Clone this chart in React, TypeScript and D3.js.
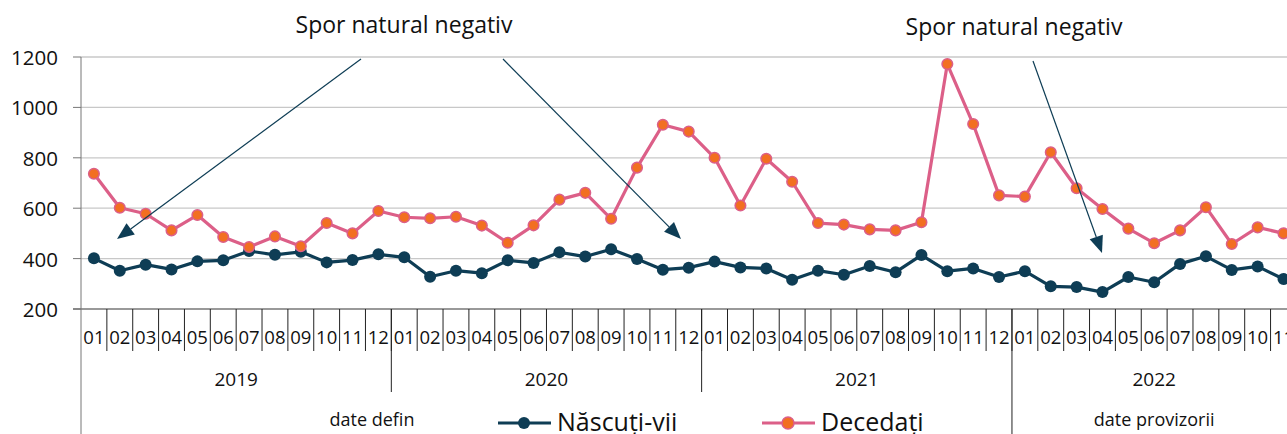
import React, { useEffect, useRef } from 'react';
import * as d3 from 'd3';

// luni pe ani (2022 doar pana in noiembrie)
const years = ['2019', '2020', '2021', '2022'];
const monthsPerYear = [12, 12, 12, 11];
const monthLabels = ['01', '02', '03', '04', '05', '06', '07', '08', '09', '10', '11', '12'];

const nascuti = [
  401, 352, 376, 357, 389, 393, 430, 415, 427, 385, 394, 417,
  405, 328, 352, 342, 393, 383, 425, 408, 437, 398, 356, 364,
  388, 365, 361, 316, 352, 336, 371, 346, 414, 350, 361, 327,
  350, 290, 287, 267, 327, 306, 379, 409, 355, 369, 319,
];
const decedati = [
  737, 602, 578, 512, 573, 486, 446, 488, 449, 541, 500, 589,
  564, 560, 566, 531, 463, 532, 634, 661, 558, 761, 931, 904,
  800, 611, 796, 705, 541, 535, 516, 512, 544, 1172, 934, 651,
  646, 822, 679, 597, 519, 461, 512, 604, 458, 524, 500,
];
const yTicks = [200, 400, 600, 800, 1000, 1200];

const DARK = '#0e3d55';
const PINK = '#dc5f88';
const ORANGE = '#f26f21';
const FONT = "'Open Sans', sans-serif";

const App: React.FC = () => {
  const svgRef = useRef<SVGSVGElement>(null);

  useEffect(() => {
    document.body.style.margin = '0';
    if (!svgRef.current) return;
    const svg = d3.select(svgRef.current);
    svg.selectAll('*').remove();

    const left = 81;
    const bandW = 25.86;
    const top = 57;
    const bottom = 309;

    const keys: string[] = [];
    years.forEach((y, i) => {
      for (let m = 0; m < monthsPerYear[i]; m++) keys.push(`${y}-${monthLabels[m]}`);
    });

    const x = d3.scaleBand<string>().domain(keys).range([left, left + keys.length * bandW]);
    const y = d3.scaleLinear().domain([200, 1200]).range([bottom, top]);
    const cx = (k: string) => (x(k) as number) + x.bandwidth() / 2;

    // grila
    yTicks.forEach(t => {
      if (t > 200) {
        svg.append('line')
          .attr('x1', left).attr('x2', 1287)
          .attr('y1', y(t)).attr('y2', y(t))
          .attr('stroke', '#c8c8c8').attr('stroke-width', 1.3);
      }
      svg.append('line')
        .attr('x1', left - 8).attr('x2', left)
        .attr('y1', y(t)).attr('y2', y(t))
        .attr('stroke', '#777').attr('stroke-width', 1);
      svg.append('text')
        .attr('x', 58).attr('y', y(t))
        .attr('text-anchor', 'end')
        .attr('dominant-baseline', 'central')
        .attr('font-family', FONT).attr('font-size', 20.5)
        .attr('fill', '#111')
        .text(t);
    });

    // axe
    svg.append('line')
      .attr('x1', left).attr('x2', left).attr('y1', top).attr('y2', 434)
      .attr('stroke', '#777').attr('stroke-width', 1);
    svg.append('line')
      .attr('x1', left - 8).attr('x2', 1287).attr('y1', bottom).attr('y2', bottom)
      .attr('stroke', '#777').attr('stroke-width', 1.3);

    // etichete luni + separatori
    keys.forEach(k => {
      const xe = (x(k) as number) + bandW;
      svg.append('line')
        .attr('x1', xe).attr('x2', xe).attr('y1', bottom).attr('y2', 351)
        .attr('stroke', '#222').attr('stroke-width', 1);
      svg.append('text')
        .attr('x', cx(k)).attr('y', 344)
        .attr('text-anchor', 'middle')
        .attr('font-family', FONT).attr('font-size', 18.5)
        .attr('fill', '#111')
        .text(k.slice(5));
    });

    // ani
    let start = 0;
    years.forEach((yr, i) => {
      const first = keys[start];
      const last = keys[start + monthsPerYear[i] - 1];
      const x0 = x(first) as number;
      const x1 = (x(last) as number) + bandW;
      svg.append('text')
        .attr('x', (x0 + x1) / 2).attr('y', 386)
        .attr('text-anchor', 'middle')
        .attr('font-family', FONT).attr('font-size', 19)
        .attr('fill', '#111')
        .text(yr);
      if (i > 0) {
        svg.append('line')
          .attr('x1', x0).attr('x2', x0).attr('y1', bottom).attr('y2', yr === '2022' ? 434 : 392)
          .attr('stroke', '#222').attr('stroke-width', 1);
      }
      if (yr === '2022') {
        svg.append('text')
          .attr('x', (x0 + x1) / 2).attr('y', 426)
          .attr('text-anchor', 'middle')
          .attr('font-family', FONT).attr('font-size', 18)
          .attr('fill', '#111')
          .text('date provizorii');
      }
      start += monthsPerYear[i];
    });

    svg.append('text')
      .attr('x', 372).attr('y', 426)
      .attr('text-anchor', 'middle')
      .attr('font-family', FONT).attr('font-size', 18)
      .attr('fill', '#111')
      .text('date defin');

    // serii
    const line = d3.line<number>()
      .x((_, i) => cx(keys[i]))
      .y(d => y(d));

    svg.append('path')
      .attr('d', line(nascuti) as string)
      .attr('fill', 'none').attr('stroke', DARK).attr('stroke-width', 3.2)
      .attr('stroke-linejoin', 'round');
    nascuti.forEach((v, i) => {
      svg.append('circle')
        .attr('cx', cx(keys[i])).attr('cy', y(v)).attr('r', 6)
        .attr('fill', DARK);
    });

    svg.append('path')
      .attr('d', line(decedati) as string)
      .attr('fill', 'none').attr('stroke', PINK).attr('stroke-width', 3.2)
      .attr('stroke-linejoin', 'round');
    decedati.forEach((v, i) => {
      svg.append('circle')
        .attr('cx', cx(keys[i])).attr('cy', y(v)).attr('r', 5.3)
        .attr('fill', ORANGE).attr('stroke', PINK).attr('stroke-width', 1.5);
    });

    // adnotari
    const arrows = [
      [361, 59, 117, 239],
      [503, 59, 681, 239],
      [1033, 61, 1102, 253],
    ];
    arrows.forEach(([x1, y1, x2, y2]) => {
      const ang = Math.atan2(y2 - y1, x2 - x1);
      const len = 17;
      const hw = 7;
      const bx = x2 - len * Math.cos(ang);
      const by = y2 - len * Math.sin(ang);
      svg.append('line')
        .attr('x1', x1).attr('y1', y1).attr('x2', bx).attr('y2', by)
        .attr('stroke', DARK).attr('stroke-width', 1.2);
      const pts = [
        [x2, y2],
        [bx + hw * Math.sin(ang), by - hw * Math.cos(ang)],
        [bx - hw * Math.sin(ang), by + hw * Math.cos(ang)],
      ];
      svg.append('polygon')
        .attr('points', pts.map(p => p.join(',')).join(' '))
        .attr('fill', DARK);
    });

    [[404, 33], [1014, 35]].forEach(([tx, ty]) => {
      svg.append('text')
        .attr('x', tx).attr('y', ty)
        .attr('text-anchor', 'middle')
        .attr('font-family', FONT).attr('font-size', 23)
        .attr('fill', '#111')
        .text('Spor natural negativ');
    });

    // legenda
    const legend = [
      { label: 'Născuți-vii', x0: 498, line: DARK, fill: DARK },
      { label: 'Decedați', x0: 762, line: PINK, fill: ORANGE },
    ];
    legend.forEach(l => {
      svg.append('line')
        .attr('x1', l.x0).attr('x2', l.x0 + 53).attr('y1', 423).attr('y2', 423)
        .attr('stroke', l.line).attr('stroke-width', 3.2);
      svg.append('circle')
        .attr('cx', l.x0 + 26).attr('cy', 423).attr('r', 6)
        .attr('fill', l.fill)
        .attr('stroke', l.line).attr('stroke-width', l.fill === l.line ? 0 : 1.5);
      svg.append('text')
        .attr('x', l.x0 + 59).attr('y', 431)
        .attr('font-family', FONT).attr('font-size', 25)
        .attr('fill', '#111')
        .text(l.label);
    });
  }, []);

  return (
    <svg ref={svgRef} width="1287" height="434" style={{ display: 'block', background: '#fff' }}></svg>
  );
};

export default App;
